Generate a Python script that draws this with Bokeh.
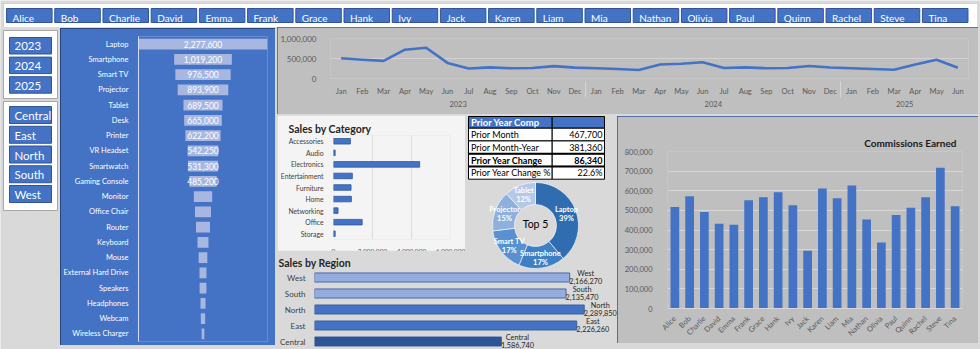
import math
from bokeh.plotting import figure
from bokeh.models import Range1d, FactorRange, FixedTicker, NumeralTickFormatter, ColumnDataSource
from bokeh.transform import dodge
from bokeh.embed import file_html
from bokeh.resources import INLINE
from bokeh.core.properties import value

# ---------------- data ----------------
sales_reps = ["Alice", "Bob", "Charlie", "David", "Emma", "Frank", "Grace", "Hank", "Ivy", "Jack",
              "Karen", "Liam", "Mia", "Nathan", "Olivia", "Paul", "Quinn", "Rachel", "Steve", "Tina"]
commissions = [517000, 572000, 492000, 432000, 427000, 551000, 567000, 592000, 526000, 294000,
               612000, 562000, 627000, 454000, 336000, 477000, 514000, 567000, 717000, 521000]
years = ["2023", "2024", "2025"]
regions = ["Central", "East", "North", "South", "West"]

products = ["Laptop", "Smartphone", "Smart TV", "Projector", "Tablet", "Desk", "Printer", "VR Headset",
            "Smartwatch", "Gaming Console", "Monitor", "Office Chair", "Router", "Keyboard", "Mouse",
            "External Hard Drive", "Speakers", "Headphones", "Webcam", "Wireless Charger"]
product_sales = [2277600, 1019200, 976500, 893900, 689500, 665000, 622200, 542250, 531300, 485200,
                 324000, 283000, 247000, 194000, 153000, 124000, 120000, 88000, 77000, 47000]
labelled_products = 10

month_names = ["Jan", "Feb", "Mar", "Apr", "May", "Jun", "Jul", "Aug", "Sep", "Oct", "Nov", "Dec"]
monthly_periods = ([("2023", m) for m in month_names] + [("2024", m) for m in month_names]
                   + [("2025", m) for m in month_names[:6]])
monthly_sales = [505000, 470000, 440000, 720000, 770000, 390000, 250000, 278000, 255000, 262000, 310000, 272000,
                 255000, 237000, 214000, 350000, 368000, 405000, 262000, 278000, 256000, 262000, 312000, 275000,
                 255000, 237000, 218000, 352000, 468000, 268000]

categories = ["Accessories", "Audio", "Electronics", "Entertainment", "Furniture", "Home",
              "Networking", "Office", "Storage"]
category_sales = [866000, 85000, 4420000, 966000, 900000, 916000, 233000, 1470000, 85000]

region_order = ["West", "South", "North", "East", "Central"]
region_sales = [2166270, 2135470, 2289850, 2226260, 1586740]

comp_labels = ["Prior Month", "Prior Month-Year", "Prior Year Change", "Prior Year Change %"]
comp_values = ["467,700", "381,360", "86,340", "22.6%"]

# ---------------- style ----------------
FONT = "Lato"
BG = "#d9d9d9"
BLUE = "#4472c4"
PANEL = "#bfbfbf"
TXT = "#595959"


def make_fig(x, y, w, h, outline=None, **kw):
    opts = dict(width=w, height=h, output_backend="svg", toolbar_location=None, tools="",
                min_border_left=0, min_border_right=0, min_border_top=0, min_border_bottom=0,
                title=None)
    opts.update(kw)
    p = figure(**opts)
    st = {"position": "absolute", "left": f"{x}px", "top": f"{y}px"}
    if outline:
        st["outline"] = f"1px solid {outline}"
        st["outline-offset"] = "-1px"
    p.styles = st
    p.grid.visible = False
    return p


def canvas(x, y, w, h, xr, yr, **kw):
    return make_fig(x, y, w, h, x_range=Range1d(*xr), y_range=Range1d(*yr),
                    x_axis_location=None, y_axis_location=None,
                    frame_width=w, frame_height=h, outline_line_color=None, **kw)


def plain_axis(a, color, size, standoff):
    a.axis_line_color = None
    a.major_tick_line_color = None
    a.minor_tick_line_color = None
    a.major_label_text_color = color
    a.major_label_text_font = FONT
    a.major_label_text_font_size = size
    a.major_label_standoff = standoff


figs = []

# ---- page background ----
pZ = canvas(0, 0, 980, 349, (0, 1), (0, 1), background_fill_color=BG, border_fill_color=BG)
figs.append(pZ)

# ---- top slicer strip (sales reps) ----
pA = canvas(3, 3, 974, 24, (-0.5358, 19.67), (24, 0),
            border_fill_color="white", background_fill_color="white")
pA.styles = dict(pA.styles, outline="1px solid #a6a6a6", **{"outline-offset": "-1px"})
idx = list(range(len(sales_reps)))
pA.quad(left=[i - 0.472 for i in idx], right=[i + 0.472 for i in idx], top=5, bottom=19,
        fill_color=BLUE, line_color="#2f5597", line_width=1)
pA.text(x=[i - 0.347 for i in idx], y=[14.2] * len(idx), text=sales_reps, text_color="white",
        text_font=value(FONT), text_font_size="10px", text_baseline="middle", text_align="left")
figs.append(pA)

# ---- left slicers (years, regions) ----
pB = canvas(0, 28, 60, 185, (0, 60), (213, 28), border_fill_color=BG, background_fill_color=BG)
pB.quad(left=[3, 3], right=[57, 57], top=[30, 101], bottom=[98, 210], fill_color="white",
        line_color="#a6a6a6", line_width=1)
ytops = [37 + 19.6 * i for i in range(len(years))]
pB.quad(left=9, right=51, top=ytops, bottom=[t + 16.5 for t in ytops], fill_color=BLUE,
        line_color="#2f5597")
pB.text(x=[14] * len(years), y=[t + 8.8 for t in ytops], text=years, text_color="white",
        text_font=value(FONT), text_font_size="11.5px", text_baseline="middle")
rtops = [106 + 19.75 * i for i in range(len(regions))]
pB.quad(left=9, right=51, top=rtops, bottom=[t + 17 for t in rtops], fill_color=BLUE,
        line_color="#2f5597")
pB.text(x=[14] * len(regions), y=[t + 9 for t in rtops], text=regions, text_color="white",
        text_font=value(FONT), text_font_size="11.5px", text_baseline="middle")
figs.append(pB)

# ---- product funnel ----
R = max(product_sales) / 2
pC = make_fig(60, 28, 215, 317, outline="#1f3864", x_range=Range1d(-R, R),
              y_range=FactorRange(*products[::-1]), x_axis_location=None,
              min_border_left=78, min_border_right=8, min_border_top=8, min_border_bottom=4,
              background_fill_color=BLUE, border_fill_color=BLUE, outline_line_color=None)
srcC = ColumnDataSource(dict(p=products, left=[-v / 2 for v in product_sales],
                             right=[v / 2 for v in product_sales],
                             lab=[f"{v:,}" if i < labelled_products else "" for i, v in enumerate(product_sales)]))
pC.hbar(y="p", left="left", right="right", height=0.7, fill_color="#a7b7e0", line_color=None, source=srcC)
pC.text(x=0, y="p", text="lab", source=srcC, text_color="white", text_font=value(FONT),
        text_font_size="8.5px", text_align="center", text_baseline="middle")
plain_axis(pC.yaxis[0], "white", "7.5px", 4)
pC.yaxis[0].axis_line_color = "#d5ddf2"
figs.append(pC)

# ---- monthly line chart ----
pD = make_fig(277, 27, 701, 87, outline="#595959",
              x_range=FactorRange(*monthly_periods, factor_padding=0, group_padding=0, range_padding=0),
              y_range=Range1d(0, 1000000),
              min_border_left=46, min_border_right=10, min_border_top=11, min_border_bottom=36,
              background_fill_color=PANEL, border_fill_color=PANEL, outline_line_color=None)
pD.ygrid.visible = True
pD.ygrid.grid_line_color = "#d2d2d2"
pD.ygrid.ticker = FixedTicker(ticks=[0, 500000, 1000000])
pD.line(x=monthly_periods, y=monthly_sales, line_width=2.6, line_color=BLUE, line_join="round")
ya = pD.yaxis[0]
ya.ticker = FixedTicker(ticks=[0, 500000, 1000000])
ya.formatter = NumeralTickFormatter(format="0,0")
plain_axis(ya, TXT, "8px", 8)
xa = pD.xaxis[0]
plain_axis(xa, TXT, "7.5px", 2)
xa.group_text_color = TXT
xa.group_text_font = FONT
xa.group_text_font_size = "7.5px"
xa.group_text_font_style = "normal"
xa.separator_line_color = "#d6d6d6"
xa.separator_line_width = 1
figs.append(pD)

# ---- sales by category ----
pE = make_fig(277, 115, 188, 140, title="Sales by Category",
              x_range=Range1d(0, 6000000), y_range=FactorRange(*categories[::-1]),
              min_border_left=53, min_border_right=15, min_border_top=20, min_border_bottom=14,
              background_fill_color="#f4f4f4", border_fill_color="#f4f4f4", outline_line_color=None)
pE.title.align = "left"
pE.title.offset = -45
pE.title.standoff = 2
pE.title.text_font = FONT
pE.title.text_font_size = "10.5px"
pE.title.text_font_style = "bold"
pE.title.text_color = "#262626"
pE.xgrid.visible = True
pE.xgrid.grid_line_color = "#dcdcdc"
pE.xgrid.ticker = FixedTicker(ticks=[0, 2000000, 4000000, 6000000])
pE.hbar(y=categories, right=category_sales, left=0, height=0.48, fill_color=BLUE,
        line_color="#2f5597", line_width=0.8)
xa = pE.xaxis[0]
xa.ticker = FixedTicker(ticks=[0, 2000000, 4000000, 6000000])
xa.formatter = NumeralTickFormatter(format="0,0")
plain_axis(xa, "#404040", "6.5px", 3)
plain_axis(pE.yaxis[0], "#404040", "6.8px", 4)
figs.append(pE)

# ---- sales by region ----
pH = make_fig(277, 250, 340, 99, title="Sales by Region",
              x_range=Range1d(0, 2572000), y_range=FactorRange(*region_order[::-1]),
              x_axis_location=None,
              min_border_left=37, min_border_right=0, min_border_top=19, min_border_bottom=0,
              background_fill_color=BG, border_fill_color=BG, outline_line_color=None)
pH.title.align = "left"
pH.title.offset = -36
pH.title.standoff = 2
pH.title.text_font = FONT
pH.title.text_font_size = "10.5px"
pH.title.text_font_style = "bold"
pH.title.text_color = "#262626"
region_colors = ["#94acdf", "#94acdf", BLUE, BLUE, "#2f5597"]
srcH = ColumnDataSource(dict(region=region_order, sales=region_sales, color=region_colors,
                             val=[f"{v:,}" for v in region_sales]))
pH.hbar(y="region", left=0, right="sales", height=0.57, fill_color="color", line_color="#2f5597",
        line_width=0.8, source=srcH)
pH.text(x="sales", y=dodge("region", 0.28, range=pH.y_range), text="region", x_offset=16, source=srcH,
        text_align="center", text_baseline="middle", text_color="#262626", text_font=value(FONT),
        text_font_size="7.3px")
pH.text(x="sales", y=dodge("region", -0.23, range=pH.y_range), text="val", x_offset=16, source=srcH,
        text_align="center", text_baseline="middle", text_color="#262626", text_font=value(FONT),
        text_font_size="7.3px")
plain_axis(pH.yaxis[0], "#404040", "8px", 3)
figs.append(pH)

# ---- prior year comparison table ----
pF = canvas(466, 114, 141, 66, (466, 607), (180, 114), background_fill_color=BG, border_fill_color=BG)
c0, c1, c2 = 468, 551.7, 604
pF.quad(left=[c0, c1], right=[c1, c2], top=116, bottom=127.7, fill_color=BLUE, line_color="black",
        line_width=1)
pF.text(x=[c0 + 2.5], y=[122], text=["Prior Year Comp"], text_color="white", text_font=value(FONT),
        text_font_size="9.5px", text_font_style="bold", text_baseline="middle")
rh = 12.75
tops = [127.7 + rh * i for i in range(len(comp_labels))]
pF.quad(left=c0, right=c1, top=tops, bottom=[t + rh for t in tops], fill_color="white",
        line_color="black", line_width=1)
pF.quad(left=c1, right=c2, top=tops, bottom=[t + rh for t in tops], fill_color="white",
        line_color="black", line_width=1)
bold_row = 2
pF.segment(x0=[c0, c0], x1=[c2, c2], y0=[tops[bold_row], tops[bold_row] + rh],
           y1=[tops[bold_row], tops[bold_row] + rh], line_color="black", line_width=2)
norm = [i for i in range(len(comp_labels)) if i != bold_row]
for rows, style in ((norm, "normal"), ([bold_row], "bold")):
    pF.text(x=[c0 + 2.5] * len(rows), y=[tops[i] + rh / 2 for i in rows], text=[comp_labels[i] for i in rows],
            text_color="black", text_font=value(FONT), text_font_size="9px", text_font_style=style,
            text_baseline="middle")
    pF.text(x=[c2 - 2] * len(rows), y=[tops[i] + rh / 2 for i in rows], text=[comp_values[i] for i in rows],
            text_color="black", text_font=value(FONT), text_font_size="9px", text_font_style=style,
            text_baseline="middle", text_align="right")
figs.append(pF)

# ---- top 5 donut ----
top5 = products[:5]
top5_sales = product_sales[:5]
tot = sum(top5_sales)
cum = [0.0]
for v in top5_sales:
    cum.append(cum[-1] + v / tot)
starts = [math.pi / 2 - 2 * math.pi * c for c in cum[:-1]]
ends = [math.pi / 2 - 2 * math.pi * c for c in cum[1:]]
mids = [(s + e) / 2 for s, e in zip(starts, ends)]
donut_colors = ["#2f6db0", "#3f7fc4", "#5990cf", "#8eb0dd", "#b4c8e7"]
pG = canvas(489, 179, 92, 92, (-46, 46), (-46, 46), background_fill_alpha=0, border_fill_alpha=0)
pG.annular_wedge(x=0, y=0, inner_radius=21, outer_radius=43, start_angle=starts, end_angle=ends,
                 direction="clock", fill_color=donut_colors, line_color="white", line_width=0.6)
rl = 33
pG.text(x=[rl * math.cos(m) for m in mids], y=[rl * math.sin(m) + 4.5 for m in mids], text=top5,
        text_color="white", text_font=value(FONT), text_font_size="7.5px", text_font_style="bold",
        text_align="center", text_baseline="middle")
pG.text(x=[rl * math.cos(m) for m in mids], y=[rl * math.sin(m) - 4.5 for m in mids],
        text=[f"{round(100 * v / tot)}%" for v in top5_sales],
        text_color="white", text_font=value(FONT), text_font_size="7.5px", text_font_style="bold",
        text_align="center", text_baseline="middle")
pG.text(x=[0], y=[1.5], text=["Top 5"], text_color="black", text_font=value(FONT), text_font_size="10.5px",
        text_align="center", text_baseline="middle")
figs.append(pG)

# ---- commissions ----
pI = make_fig(617, 116, 361, 227, outline="#2f5597", title="Commissions Earned",
              x_range=FactorRange(*sales_reps, range_padding=0), y_range=Range1d(0, 800000),
              min_border_left=50, min_border_right=16, min_border_top=35, min_border_bottom=32,
              background_fill_color=PANEL, border_fill_color=PANEL, outline_line_color=None)
pI.title.align = "right"
pI.title.offset = 6
pI.title.standoff = 5
pI.title.text_font = FONT
pI.title.text_font_size = "10px"
pI.title.text_font_style = "bold"
pI.title.text_color = "#1a1a1a"
ticks = list(range(0, 800001, 100000))
pI.ygrid.visible = True
pI.ygrid.grid_line_color = "#d6d6d6"
pI.ygrid.ticker = FixedTicker(ticks=ticks)
pI.vbar(x=sales_reps, top=commissions, width=0.59, fill_color=BLUE, line_color=None)
ya = pI.yaxis[0]
ya.ticker = FixedTicker(ticks=ticks)
ya.formatter = NumeralTickFormatter(format="0,0")
plain_axis(ya, TXT, "7.5px", 9)
xa = pI.xaxis[0]
plain_axis(xa, TXT, "7.5px", 3)
xa.axis_line_color = "#d6d6d6"
xa.major_label_orientation = math.pi / 4
figs.append(pI)

open("out.html", "w").write(file_html(figs, INLINE))
